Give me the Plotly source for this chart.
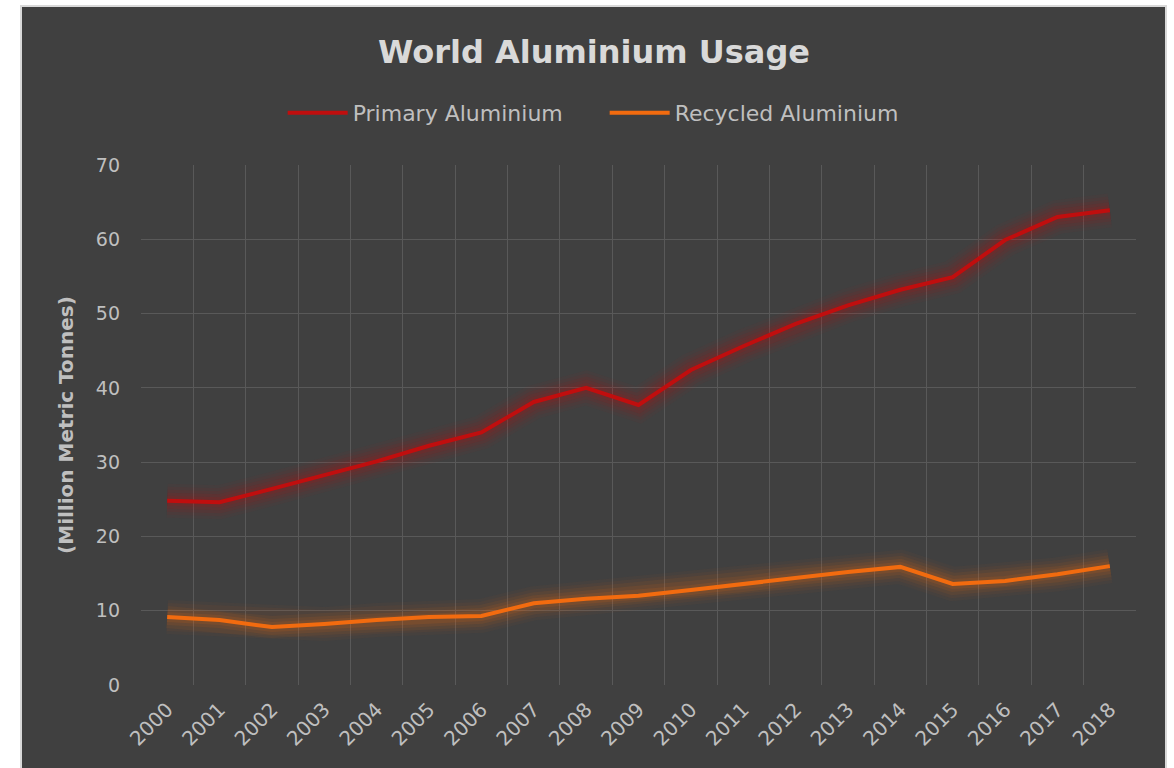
import plotly.graph_objects as go

years = [str(y) for y in range(2000, 2019)]
primary = [24.8, 24.6, 26.4, 28.3, 30.1, 32.2, 34.0, 38.1, 40.0, 37.7,
           42.4, 45.6, 48.6, 51.1, 53.2, 54.9, 59.9, 63.0, 63.9]
recycled = [9.15, 8.75, 7.8, 8.2, 8.75, 9.15, 9.3, 11.0, 11.6, 12.0,
            12.8, 13.6, 14.5, 15.2, 15.9, 13.6, 14.0, 14.9, 16.0]
y_ticks = [0, 10, 20, 30, 40, 50, 60, 70]

series = [("Primary Aluminium", primary, "#c00e0e", "192,14,14"),
          ("Recycled Aluminium", recycled, "#f26b0f", "242,107,15")]

FONT = "DejaVu Sans"
fig = go.Figure()

# glow layers
for name, vals, col, rgb in series:
    for w, a in [(34, 0.04), (28, 0.05), (22, 0.07), (16, 0.09), (10, 0.12)]:
        fig.add_trace(go.Scatter(x=years, y=vals, mode="lines",
                                 line=dict(color=f"rgba({rgb},{a})", width=w),
                                 showlegend=False, hoverinfo="skip"))
for name, vals, col, rgb in series:
    fig.add_trace(go.Scatter(x=years, y=vals, mode="lines", name=name,
                             line=dict(color=col, width=4)))

L, R, T, B = 141, 38, 165, 83
pw = 1174 - L - R
ph = 768 - T - B

fig.add_shape(type="rect", xref="paper", yref="paper", layer="below",
              x0=(21 - L) / pw, x1=(1166 - L) / pw,
              y0=(685 - 790) / ph, y1=(685 - 6) / ph,
              fillcolor="#404040", line=dict(color="#d9d9d9", width=2))

fig.update_layout(
    width=1174, height=768,
    margin=dict(l=L, r=R, t=T, b=B),
    paper_bgcolor="white", plot_bgcolor="rgba(0,0,0,0)",
    title=dict(text="<b>World Aluminium Usage</b>", x=0.506, xanchor="center",
               y=1 - 52 / 768, yanchor="middle", yref="container",
               font=dict(family=FONT, size=32, color="#d9d9d9")),
    legend=dict(orientation="h", x=0.466, xanchor="center", y=(685 - 113) / ph,
                yanchor="middle", font=dict(family=FONT, size=22, color="#bfbfbf"),
                bgcolor="rgba(0,0,0,0)", entrywidthmode="pixels", itemwidth=60,
                entrywidth=247, traceorder="normal"),
    showlegend=True,
)
fig.update_xaxes(type="category", tickson="boundaries", showgrid=True,
                 range=[-0.5, 18.5],
                 gridcolor="#595959", gridwidth=1, tickangle=-45,
                 tickfont=dict(family=FONT, size=20, color="#bfbfbf"),
                 showline=False, zeroline=False, ticks="", ticklabelstandoff=8)
fig.update_yaxes(range=[0, 70], tickvals=y_ticks, showgrid=True,
                 gridcolor="#595959", gridwidth=1, zeroline=False,
                 tickfont=dict(family=FONT, size=19, color="#bfbfbf"),
                 ticklabelstandoff=20,
                 title=dict(text="<b>(Million Metric Tonnes)</b>",
                            font=dict(family=FONT, size=20, color="#bfbfbf"),
                            standoff=16))

fig.write_html("out.html")
